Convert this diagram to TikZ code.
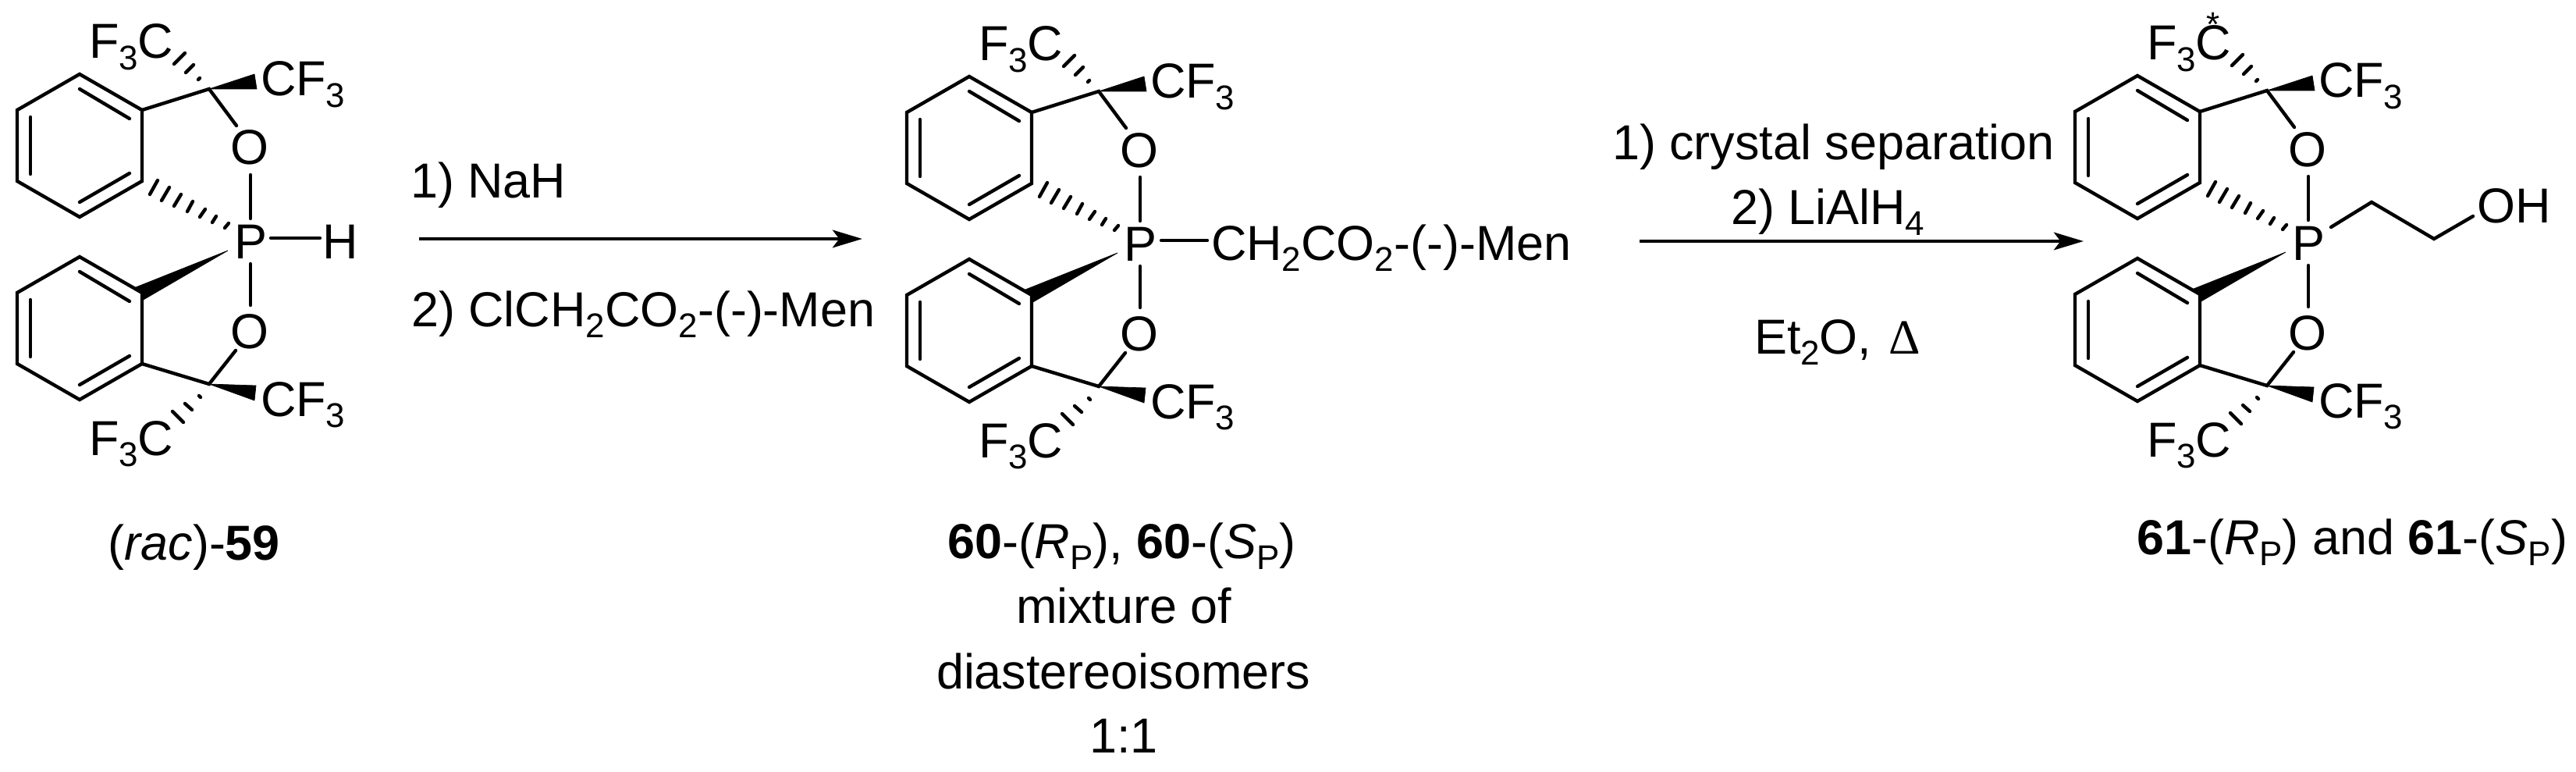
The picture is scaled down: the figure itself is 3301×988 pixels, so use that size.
\documentclass[tikz,border=0pt]{standalone}
\usepackage{fontspec}
\setmainfont[Kerning=Off]{Liberation Sans}
\newfontfamily\symfont{Liberation Serif}
\usetikzlibrary{arrows.meta}
\newcommand{\subs}[1]{\raisebox{-4pt}{\fontsize{12.5pt}{14pt}\selectfont #1}}
\tikzset{
  lab/.style={font=\fontsize{17.9pt}{20pt}\selectfont, inner sep=0pt, outer sep=0pt, anchor=base west},
  labe/.style={lab, anchor=base east},
  labc/.style={lab, anchor=base},
  bond/.style={line width=1.25pt, line cap=round, line join=miter},
  hash/.style={line width=1.25pt, line cap=round},
  wedge/.style={fill=black, draw=black, line width=0.2pt},
  rxn/.style={line width=1.42pt, -{Stealth[length=10.8pt,width=6.4pt,inset=2.4pt]}}
}
% half of the spiro-phosphorane skeleton, shared by all three molecules
\newcommand{\ringat}[2]{%
  \begin{scope}[shift={(0,#2)}]
    \coordinate (#1t) at (102,95);
    \coordinate (#1ur) at (182,141);
    \coordinate (#1lr) at (182,232);
    \coordinate (#1b) at (102,278);
    \coordinate (#1ll) at (22,232);
    \coordinate (#1ul) at (22,141);
    \coordinate (#1d1a) at (102,114);
    \coordinate (#1d1b) at (166,152);
    \coordinate (#1d2a) at (39,150);
    \coordinate (#1d2b) at (39,223);
    \coordinate (#1d3a) at (102,259);
    \coordinate (#1d3b) at (166,222);
    \draw[bond] (#1t) -- (#1ur) -- (#1lr) -- (#1b) -- (#1ll) -- (#1ul) -- cycle;
    \draw[bond] (#1d1a) -- (#1d1b);
    \draw[bond] (#1d2a) -- (#1d2b);
    \draw[bond] (#1d3a) -- (#1d3b);
  \end{scope}}
\newcommand{\skeleton}[3]{%
  \begin{scope}[shift={(#2,#3)}]
    \ringat{#1u}{0}
    \ringat{#1d}{234}
    % atoms
    \node[lab] (#1P) at (300,331) {P};
    \node[labc] (#1Ou) at (320,211) {O};
    \node[labc] (#1Od) at (320,446) {O};
    \node[lab] (#1Fu) at (114,75) {F\subs{3}C};
    \node[lab] (#1CFu) at (334,123) {CF\subs{3}};
    \node[lab] (#1Fd) at (114,583) {F\subs{3}C};
    \node[lab] (#1CFd) at (334,533) {CF\subs{3}};
    % quaternary carbons and bond ends
    \coordinate (#1Cu) at (268,114);
    \coordinate (#1Cd) at (268,492);
    \coordinate (#1Oua) at (303,161);
    \coordinate (#1Oda) at (302,449);
    \coordinate (#1Oub) at (321,224);
    \coordinate (#1Pu) at (321,280);
    \coordinate (#1Pd) at (321,338);
    \coordinate (#1Odb) at (321,391);
    \draw[bond] (#1uur) -- (#1Cu) -- (#1Oua);
    \draw[bond] (#1dlr) -- (#1Cd) -- (#1Oda);
    \draw[bond] (#1Oub) -- (#1Pu);
    \draw[bond] (#1Pd) -- (#1Odb);
    % wedges to CF3
    \coordinate (#1wu1) at (326,95);
    \coordinate (#1wu2) at (329,114);
    \coordinate (#1wd1) at (328,494);
    \coordinate (#1wd2) at (326,513);
    \fill[wedge] (#1Cu) -- (#1wu1) -- (#1wu2) -- cycle;
    \fill[wedge] (#1Cd) -- (#1wd1) -- (#1wd2) -- cycle;
    % wedge to P
    \coordinate (#1wp) at (292,321);
    \coordinate (#1wp1) at (174,368);
    \coordinate (#1wp2) at (182,385);
    \fill[wedge] (#1wp) -- (#1wp1) -- (#1dur) -- (#1wp2) -- cycle;
    % hashed bond to P
    \foreach \a/\b/\c/\d in {192/249/202/231, 207/257/217/240, 223/264/232/249, 240/271/247/258, 256/278/263/268, 272/285/277/277, 288/292/293/286}
      \draw[hash] (\a,\b) -- (\c,\d);
    % hashed bonds to F3C
    \foreach \a/\b/\c/\d in {254/102/256/100, 238/93/248/83, 223/82/237/68}
      \draw[hash] (\a,\b) -- (\c,\d);
    \foreach \a/\b/\c/\d in {255/507/257/509, 237/517/246/525, 221/527/235/541}
      \draw[hash] (\a,\b) -- (\c,\d);
  \end{scope}}
\begin{document}
\begin{tikzpicture}[x=0.01cm,y=-0.01cm]
\useasboundingbox (0,0) rectangle (3301,988);
\fill[white] (0,0) rectangle (3301,988);

% molecule 59
\skeleton{a}{0}{0}
\node[lab] (aH) at (413,331) {H};
\coordinate (aHa) at (347,305);
\coordinate (aHb) at (410,305);
\draw[bond] (aHa) -- (aHb);
\node[labe] (lab59) at (359,717) {(\textit{rac})-\textbf{59}};

% molecule 60
\skeleton{b}{1140}{3}
\node[lab] (bR) at (1552,333) {CH\subs{2}CO\subs{2}-(-)-Men};
\coordinate (bRa) at (1488,308);
\coordinate (bRb) at (1547,308);
\draw[bond] (bRa) -- (bRb);
\node[lab] (lab60a) at (1214,715) {\textbf{60}-(\textit{R}\subs{P}), \textbf{60}-(\textit{S}\subs{P})};
\node[lab] (lab60b) at (1302,798) {mixture of};
\node[lab] (lab60c) at (1200,882) {diastereoisomers};
\node[labc] (lab60d) at (1440,964) {1:1};

% molecule 61
\skeleton{c}{2637}{2}
\node[labc] (cstar) at (2836,47) {\fontsize{12.5pt}{14pt}\selectfont *};
\coordinate (cRa) at (2987,291);
\coordinate (cR1) at (3039,259);
\coordinate (cR2) at (3119,306);
\coordinate (cRb) at (3169,277);
\draw[bond] (cRa) -- (cR1) -- (cR2) -- (cRb);
\node[lab] (cOH) at (3174,285) {OH};
\node[labe] (lab61) at (3290,710) {\textbf{61}-(\textit{R}\subs{P}) and \textbf{61}-(\textit{S}\subs{P})};

% reaction 1
\coordinate (r1a) at (537,306);
\coordinate (r1b) at (1105,306);
\draw[rxn] (r1a) -- (r1b);
\node[lab] (r1t) at (526,253) {1) NaH};
\node[lab] (r1s) at (527,418) {2) ClCH\subs{2}CO\subs{2}-(-)-Men};

% reaction 2
\coordinate (r2a) at (2101,309);
\coordinate (r2b) at (2670,309);
\draw[rxn] (r2a) -- (r2b);
\node[lab] (r2t) at (2066,204) {1) crystal separation};
\node[lab] (r2m) at (2218,287) {2) LiAlH\subs{4}};
\node[lab] (r2s) at (2248,453) {Et\subs{2}O, \hspace{1.4pt}{\symfont Δ}};
\end{tikzpicture}
\end{document}
